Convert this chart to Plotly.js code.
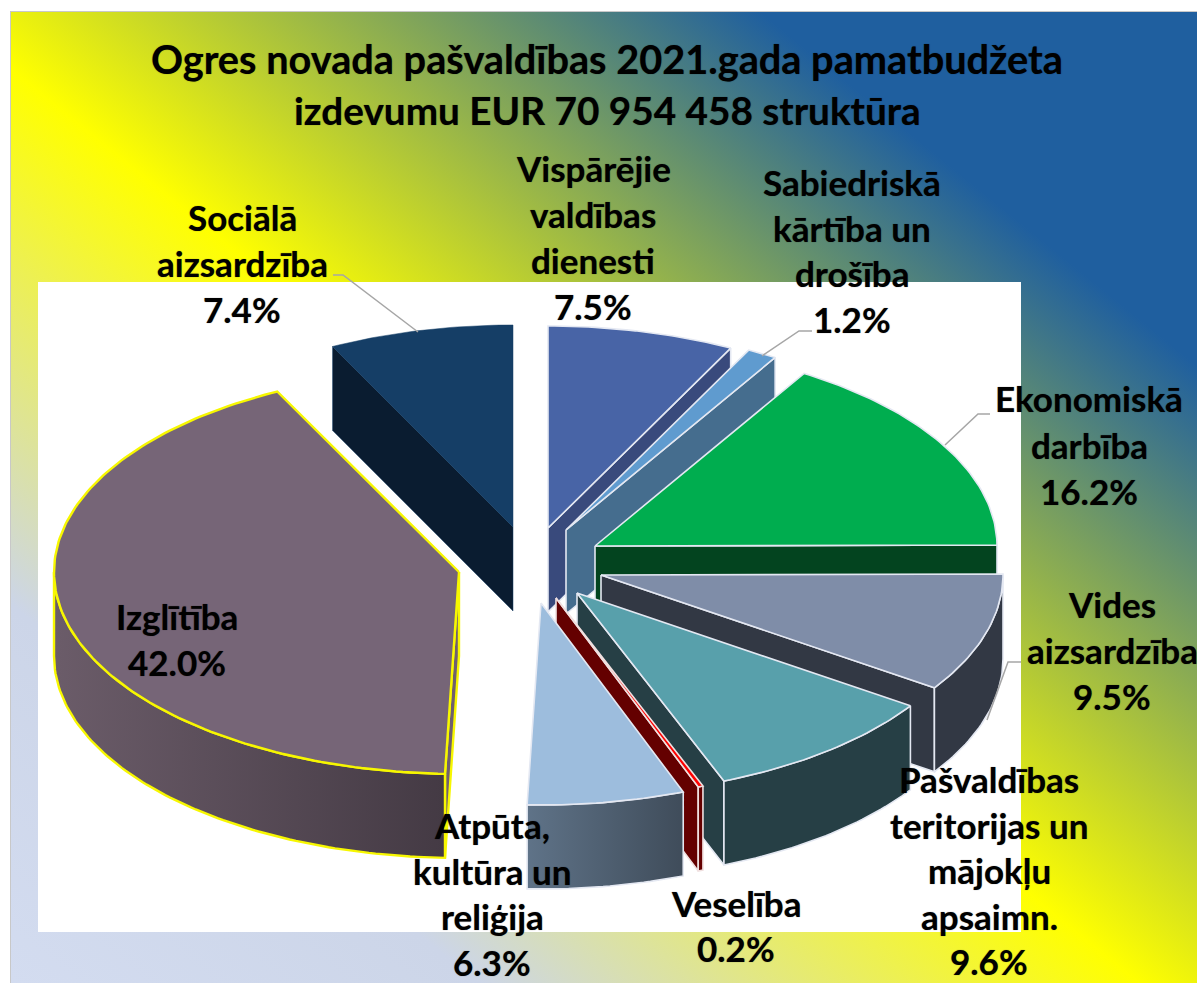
<!DOCTYPE html>
<html><head><meta charset="utf-8">
<script src="https://cdn.plot.ly/plotly-3.0.1.min.js"></script>
<style>
html,body{margin:0;padding:0;background:#fff;width:1197px;height:983px;overflow:hidden}
#bg{position:absolute;left:10px;top:11px;width:1186px;height:971px;border-left:1px solid #c8c8c8;border-top:1px solid #c8c8c8;
background:linear-gradient(39deg,#d3dcf0 0%,#ccd5e8 19.6%,#ffff00 47.3%,#1f5f9f 81.7%,#1f5f9f 100%)}
#chart{position:absolute;left:0;top:0;width:1197px;height:983px}
</style></head><body>
<div id="bg"></div><div id="chart"></div>
<script>
// Data, clockwise from 12 o'clock
const categories=["Vispārējie valdības dienesti","Sabiedriskā kārtība un drošība","Ekonomiskā darbība","Vides aizsardzība","Pašvaldības teritorijas un mājokļu apsaimn.","Veselība","Atpūta, kultūra un reliģija","Izglītība","Sociālā aizsardzība"];
const values=[7.5,1.2,16.2,9.5,9.6,0.2,6.3,42.0,7.4];
const labelLines=[["Vispārējie","valdības","dienesti"],["Sabiedriskā","kārtība un","drošība"],["Ekonomiskā","darbība"],["Vides","aizsardzība"],["Pašvaldības","teritorijas un","mājokļu","apsaimn."],["Veselība"],["Atpūta,","kultūra un","reliģija"],["Izglītība"],["Sociālā","aizsardzība"]];
const topColors=["#4864a6","#5f9bcf","#00ad4f","#7f8da8","#58a0ab","#ff0000","#9dbddd","#766577","#153e66"];
const sideColors=["#394a7c","#456d8e","#03441f","#323844","#263f45","#640000","#43505e","#6f5f70","#0a1c30"];
const edgeColors=["#e4e8f2","#e4e8f2","#e4e8f2","#e4e8f2","#e4e8f2","#f0e0e0","#e4e8f2","#f7f700","#153e66"];
const edgeWidths=[1.6,1.6,1.6,1.6,1.6,1.6,1.6,2.4,0.5];
const rimGradients=[null,null,null,null,null,null,["#3f4c5a","#5f7388"],["#443a44","#6b5c69"],null];
const titleLines=["Ogres novada pašvaldības 2021.gada pamatbudžeta","izdevumu EUR 70 954 458 struktūra"];
const titleSizes=[39.7,38.7];
// Layout of the exploded perspective pie (page pixels)
const apexX=[548,566,595,601,577,556,541,459,513];
const apexY=[528,530,546,575,593,598,603,572,527];
const radiusX=[402,402,402,402,402,402,402,405,402];
const RY=202,DEPTH=84;
const labelCenterX=[593,852,1089,1112,989,736,492,177,242];
const labelFirstY=[168,182,398,604,779,903,825,616,217];
const labelGap=[46,45.5,46.5,46,45.5,45,45.5,46,46];
const leaderX=[[333,343,418],[812,799,762],[990,978,945],[1021,1008,987]];
const leaderY=[[275,275,332],[331,331,356],[414,414,445],[662,662,720]];

const total=values.reduce((a,b)=>a+b,0);
const rad=d=>d*Math.PI/180;
const traces=[];
function face(xs,ys,fill,line,w,grad){
  const t={type:'scatter',mode:'lines',x:xs.concat(xs[0]),y:ys.concat(ys[0]),fill:'toself',fillcolor:fill,
    line:{color:line,width:w},hoverinfo:'skip',showlegend:false};
  if(grad)t.fillgradient={type:'horizontal',colorscale:[[0,grad[1]],[1,grad[0]]]};
  traces.push(t);
}
function arc(cx,cy,rx,a,b){
  const n=Math.max(2,Math.ceil(Math.abs(b-a))),xs=[],ys=[];
  for(let i=0;i<=n;i++){const t=rad(a+(b-a)*i/n);xs.push(cx+rx*Math.sin(t));ys.push(cy-RY*Math.cos(t));}
  return [xs,ys];
}
let cum=0;
values.forEach((v,i)=>{
  const a=cum/total*360,b=(cum+v)/total*360;cum+=v;
  const cx=apexX[i],cy=apexY[i],d=DEPTH,rx=radiusX[i],side=sideColors[i],edge=edgeColors[i],w=edgeWidths[i];
  const pt=t=>[cx+rx*Math.sin(rad(t)),cy-RY*Math.cos(rad(t))];
  if(a>180&&a<360){const p=pt(a);face([cx,p[0],p[0],cx],[cy,p[1],p[1]+d,cy+d],side,edge,w);}
  if(b>0&&b<180){const p=pt(b);face([cx,p[0],p[0],cx],[cy,p[1],p[1]+d,cy+d],side,edge,w);}
  const r0=Math.max(a,90),r1=Math.min(b,270);
  if(r1>r0){
    const [ax,ay]=arc(cx,cy,rx,r0,r1);
    const bx=ax.slice().reverse(),by=ay.slice().reverse().map(y=>y+d);
    face(ax.concat(bx),ay.concat(by),side,edge,w,rimGradients[i]);
  }
  const [tx,ty]=arc(cx,cy,rx,a,b);
  face([cx].concat(tx),[cy].concat(ty),topColors[i],edge,w);
});
leaderX.forEach((xs,i)=>traces.push({type:'scatter',mode:'lines',x:xs,y:leaderY[i],line:{color:'#a6a6a6',width:1.5},hoverinfo:'skip',showlegend:false}));

const FONT='Lato, "Open Sans", sans-serif';
const anns=[];
function put(text,x,y,size){anns.push({text:text,x:x,y:y,xref:'x',yref:'y',showarrow:false,xanchor:'center',yanchor:'middle',
  font:{family:FONT,size:size,color:'#000',weight:700,shadow:'0 0 1px rgba(0,0,0,0.55)'}});}
titleLines.forEach((s,i)=>put('<b>'+s+'</b>',607,58+52*i,titleSizes[i]));
labelLines.forEach((lines,i)=>{
  const all=lines.concat(values[i].toFixed(1)+'%');
  all.forEach((s,j)=>put('<b>'+s+'</b>',labelCenterX[i],labelFirstY[i]+labelGap[i]*j,35));
});
Plotly.newPlot('chart',traces,{
  width:1197,height:983,autosize:false,margin:{l:0,r:0,t:0,b:0,pad:0},
  paper_bgcolor:'rgba(0,0,0,0)',plot_bgcolor:'rgba(0,0,0,0)',showlegend:false,
  xaxis:{range:[0,1197],visible:false,fixedrange:true},
  yaxis:{range:[983,0],visible:false,fixedrange:true},
  shapes:[{type:'rect',xref:'x',yref:'y',x0:38,x1:1021,y0:282,y1:932,fillcolor:'#fff',line:{width:0},layer:'below'}],
  annotations:anns
},{displayModeBar:false,staticPlot:true});
</script></body></html>
